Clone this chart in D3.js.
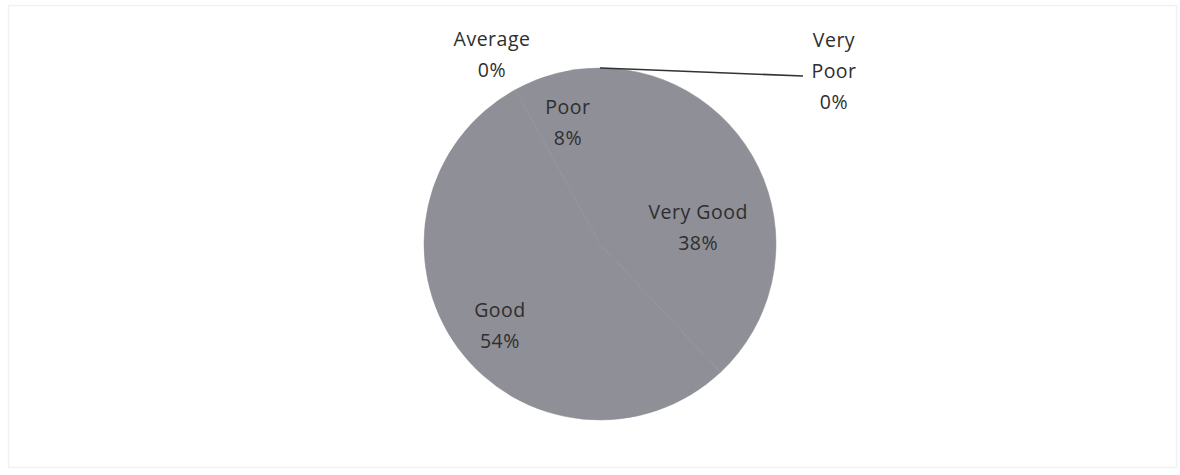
<!DOCTYPE html>
<html><head><meta charset="utf-8">
<script src="https://cdn.jsdelivr.net/npm/d3@7"></script>
<style>
html,body{margin:0;padding:0;background:#fff;}
text{font-family:"Open Sans",sans-serif;fill:#2e2e2e;}
</style></head>
<body>
<svg id="chart" width="1180" height="475"></svg>
<script>
// Data (order as drawn, clockwise from 12 o'clock)
const categories = ["Very Poor", "Very Good", "Good", "Poor", "Average"];
const values = [0, 38, 54, 8, 0];
const percentLabels = ["0%", "38%", "54%", "8%", "0%"];

const W = 1180, H = 475;
const cx = 600, cy = 244, R = 176;
const svg = d3.select("#chart");

// faint frame
svg.append("rect").attr("x", 8.5).attr("y", 5.5).attr("width", 1168).attr("height", 462)
  .attr("fill", "none").attr("stroke", "#f1f1f1").attr("stroke-width", 1.5);

const data = categories.map((c, i) => ({cat: c, value: values[i], pct: percentLabels[i]}));
const pie = d3.pie().value(d => d.value).sort(null);
const arcs = pie(data);
const arc = d3.arc().innerRadius(0).outerRadius(R);
const g = svg.append("g").attr("transform", `translate(${cx},${cy})`);

g.selectAll("path.slice").data(arcs.filter(a => a.data.value > 0)).join("path")
  .attr("class", "slice")
  .attr("d", arc)
  .attr("fill", "#8f8f97")
  .attr("stroke", "#8f8f97")
  .attr("stroke-width", 0.5);

const labelArc = d3.arc().innerRadius(R * 0.71).outerRadius(R * 0.71);
// layout nudges for label placement (px)
const nudge = {"Very Good": [-18, 30], "Good": [1, 8], "Poor": [-1, 0]};
// outside labels for zero slices
const outside = {"Average": [-108, -189], "Very Poor": [234, -173]};
const lineGap = 31, fs = 19.5;

arcs.forEach(a => {
  const d = a.data;
  let x, y, lines;
  if (outside[d.cat]) {
    [x, y] = outside[d.cat];
    lines = d.cat === "Very Poor" ? ["Very", "Poor", d.pct] : [d.cat, d.pct];
  } else {
    [x, y] = labelArc.centroid(a);
    const n = nudge[d.cat] || [0, 0];
    x += n[0]; y += n[1];
    lines = [d.cat, d.pct];
  }
  const t = g.append("text").attr("text-anchor", "middle").attr("font-size", fs)
    .attr("letter-spacing", "0.5px");
  const y0 = y - (lines.length - 1) * lineGap / 2;
  lines.forEach((l, i) => {
    t.append("tspan").attr("x", x).attr("y", y0 + i * lineGap).attr("dy", "0.35em").text(l);
  });
});

// leader line for Very Poor
const vp = arcs.find(a => a.data.cat === "Very Poor");
const ang = vp.startAngle;
const p0 = [R * Math.sin(ang), -R * Math.cos(ang)];
g.append("path")
  .attr("d", d3.line()([p0, [40, -R + 1.5], [203, -R + 8]]))
  .attr("fill", "none").attr("stroke", "#333").attr("stroke-width", 1.6);
</script>
</body></html>
